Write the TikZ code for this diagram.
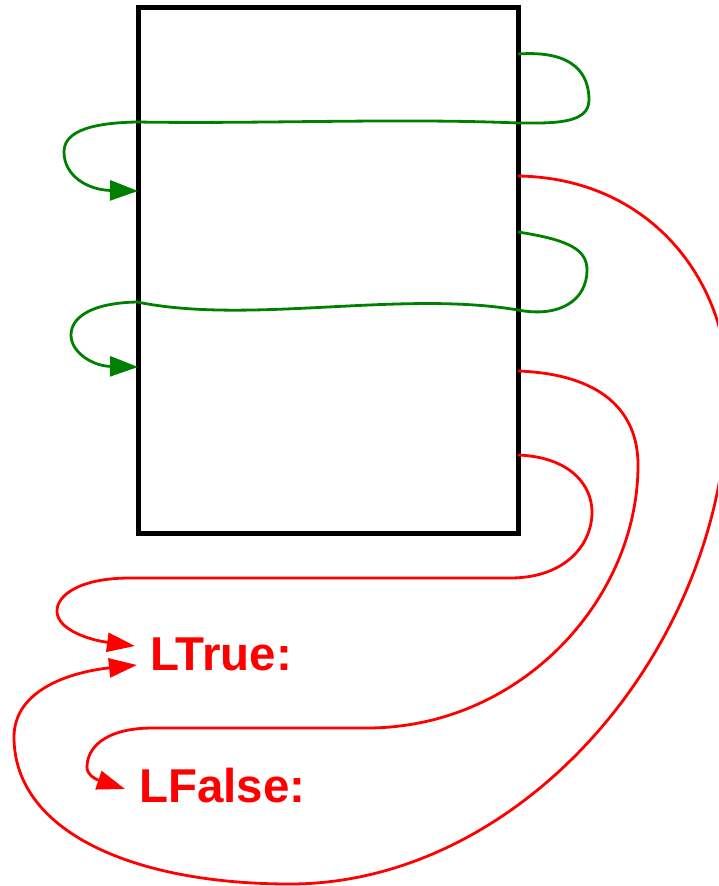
\documentclass[tikz,border=0pt]{standalone}
\usepackage{fontspec}
\setmainfont{Liberation Sans}
\usetikzlibrary{arrows.meta}
\definecolor{flowgreen}{RGB}{0,128,0}
\definecolor{jumpred}{RGB}{255,0,0}
\begin{document}
\begin{tikzpicture}[x=1pt,y=-1pt,
  blockbox/.style={draw=black, line width=5pt, minimum width=380pt, minimum height=526pt, inner sep=0pt, outer sep=0pt, anchor=north west},
  gflow/.style={draw=flowgreen, line width=2.8pt, -{Triangle[length=28pt,width=20pt]}},
  rflow/.style={draw=jumpred, line width=2.8pt, -{Triangle[length=28pt,width=19pt]}},
  lbl/.style={text=jumpred, font=\bfseries\fontsize{47.5}{52}\selectfont, inner sep=0pt, anchor=base west}]
\useasboundingbox (0,0) rectangle (718,886);
\begin{scope}
\clip (0,0) rectangle (718,886);
\node[blockbox] (box) at (138,7) {};
\node[lbl] (ltrue) at (150,670) {LTrue:};
\node[lbl] (lfalse) at (139,802) {LFalse:};
% start points on the right border, targets on the left border
\coordinate (g1s) at (box.east |- 0,54);
\coordinate (g1t) at (box.west |- 0,191);
\coordinate (g2s) at (box.east |- 0,232);
\coordinate (g2t) at (box.west |- 0,367);
\coordinate (r1s) at (box.east |- 0,176);
\coordinate (r2s) at (box.east |- 0,371);
\coordinate (r3s) at (box.east |- 0,455);
\coordinate (t1) at ([xshift=-13pt,yshift=5pt]ltrue.base west);
\coordinate (t3) at ([xshift=-15pt,yshift=24pt]ltrue.base west);
\coordinate (f2) at ([xshift=-14pt,yshift=13pt]lfalse.base west);
% green flows
\draw[gflow] (g1s) .. controls (575,50) and (589,75) .. (589,100)
  .. controls (589,125) and (550,123) .. (518,123)
  .. controls (400,118) and (260,124) .. (137,122)
  .. controls (82,123) and (64,135) .. (64,152)
  .. controls (64,176) and (88,190) .. (g1t);
\draw[gflow] (g2s) .. controls (570,240) and (587,250) .. (587,270)
  .. controls (587,300) and (560,318) .. (518,310)
  .. controls (400,290) and (250,325) .. (137,302)
  .. controls (90,303) and (71,318) .. (71,335)
  .. controls (71,352) and (92,366) .. (g2t);
% red jumps
\draw[rflow] (r1s) .. controls (650,178) and (728,280) .. (728,390)
  .. controls (728,650) and (520,884) .. (290,884)
  .. controls (130,884) and (14,830) .. (14,737)
  .. controls (14,690) and (70,672) .. (t1);
\draw[rflow] (r2s) .. controls (600,374) and (638,410) .. (638,465)
  .. controls (638,600) and (520,728) .. (367,728)
  -- (153,728)
  .. controls (102,728) and (87,750) .. (87,767)
  .. controls (87,775) and (95,779) .. (f2);
\draw[rflow] (r3s) .. controls (570,457) and (592,485) .. (592,512)
  .. controls (592,545) and (565,578) .. (510,578)
  -- (130,578)
  .. controls (80,578) and (57,595) .. (57,611)
  .. controls (57,630) and (90,640) .. (t3);
\end{scope}
\end{tikzpicture}
\end{document}
